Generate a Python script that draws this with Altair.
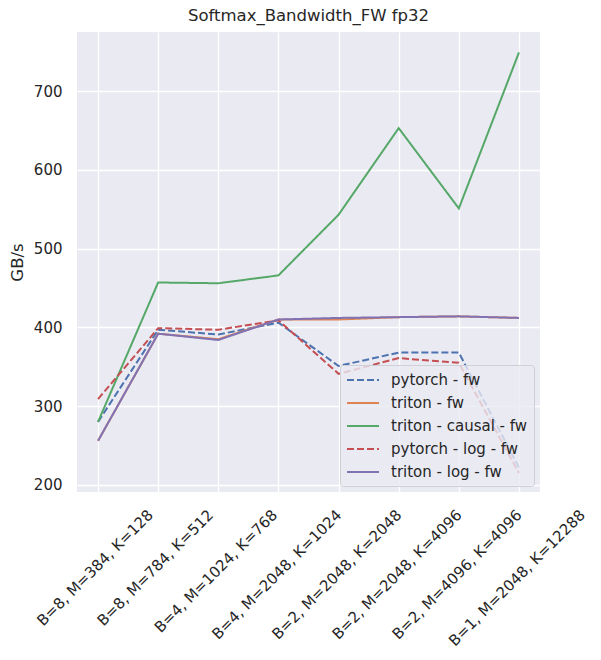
import altair as alt
import pandas as pd

categories = [
    "B=8, M=384, K=128",
    "B=8, M=784, K=512",
    "B=4, M=1024, K=768",
    "B=4, M=2048, K=1024",
    "B=2, M=2048, K=2048",
    "B=2, M=2048, K=4096",
    "B=2, M=4096, K=4096",
    "B=1, M=2048, K=12288",
]
series_names = [
    "pytorch - fw",
    "triton - fw",
    "triton - causal - fw",
    "pytorch - log - fw",
    "triton - log - fw",
]
pytorch_fw = [280, 397, 391, 406, 351, 368, 368, 222]
triton_fw = [256, 392, 385, 410, 410, 413, 414, 412]
triton_causal_fw = [280, 457, 456, 466, 543, 653, 551, 749]
pytorch_log_fw = [309, 399, 397, 409, 341, 361, 355, 215]
triton_log_fw = [256, 392, 384, 410, 412, 413, 414, 412]

colors = ["#4c72b0", "#dd8452", "#55a868", "#c44e52", "#8172b3"]
dashes = [[7, 3], [1, 0], [1, 0], [7, 3], [1, 0]]

all_vals = [pytorch_fw, triton_fw, triton_causal_fw, pytorch_log_fw, triton_log_fw]
rows = []
for name, vals in zip(series_names, all_vals):
    for i, v in enumerate(vals):
        rows.append({"idx": i, "config": categories[i], "series": name, "value": v})
df = pd.DataFrame(rows)

label_expr = "[" + ",".join("'" + c + "'" for c in categories) + "][datum.value]"

FONT = "DejaVu Sans"
TXT = "#262626"

chart = alt.Chart(df).mark_line(strokeWidth=2).encode(
    x=alt.X(
        "idx:Q",
        scale=alt.Scale(domain=[-0.35, 7.35], nice=False, zero=False),
        axis=alt.Axis(
            values=list(range(len(categories))),
            labelExpr=label_expr,
            title=None,
            labelAngle=-45,
            labelAlign="right",
            labelBaseline="top",
            labelOffset={
                "condition": [
                    {"test": "datum.value <= 1", "value": 47},
                    {"test": "datum.value == 2", "value": 51},
                    {"test": "datum.value == 7", "value": 58},
                ],
                "value": 55,
            },
            labelPadding=15,
            labelLimit=0,
            ticks=False,
            domain=False,
            grid=True,
            gridColor="white",
            gridWidth=1.3,
            labelFontSize=15,
            labelColor=TXT,
            labelFont=FONT,
            labelOverlap=False,
            labelBound=False,
        ),
    ),
    y=alt.Y(
        "value:Q",
        scale=alt.Scale(domain=[191, 775], nice=False, zero=False),
        axis=alt.Axis(
            values=[200, 300, 400, 500, 600, 700],
            title="GB/s",
            titleFontSize=16.5,
            titleFontWeight="normal",
            titleColor=TXT,
            titleFont=FONT,
            titlePadding=8,
            ticks=False,
            domain=False,
            grid=True,
            gridColor="white",
            gridWidth=1.3,
            labelFontSize=15,
            labelColor=TXT,
            labelFont=FONT,
            labelPadding=15,
        ),
    ),
    color=alt.Color(
        "series:N",
        scale=alt.Scale(domain=series_names, range=colors),
        sort=series_names,
        legend=alt.Legend(
            title=None,
            orient="bottom-right",
            offset=6,
            symbolType="M-1,0H3",
            symbolSize=256,
            symbolStrokeWidth=2,
            labelOffset=27,
            labelFontSize=15,
            labelFont=FONT,
            labelColor=TXT,
            rowPadding=6,
            fillColor="rgba(234,234,242,0.8)",
            strokeColor="#cfcfd6",
            padding=6,
            cornerRadius=3,
        ),
    ),
    strokeDash=alt.StrokeDash(
        "series:N",
        scale=alt.Scale(domain=series_names, range=dashes),
        sort=series_names,
        legend=None,
    ),
    order=alt.Order("idx:Q"),
).properties(
    width=463,
    height=460,
    title=alt.TitleParams(
        "Softmax_Bandwidth_FW fp32",
        fontSize=16.5,
        fontWeight="normal",
        font=FONT,
        color=TXT,
        offset=8,
    ),
    padding={"left": 77, "top": 32, "right": 61, "bottom": 168},
    autosize=alt.AutoSizeParams(type="none"),
).configure(
    background="white"
).configure_view(
    fill="#eaeaf2", stroke=None
)

chart.save("out.html", embed_options={"renderer": "svg", "actions": False})
